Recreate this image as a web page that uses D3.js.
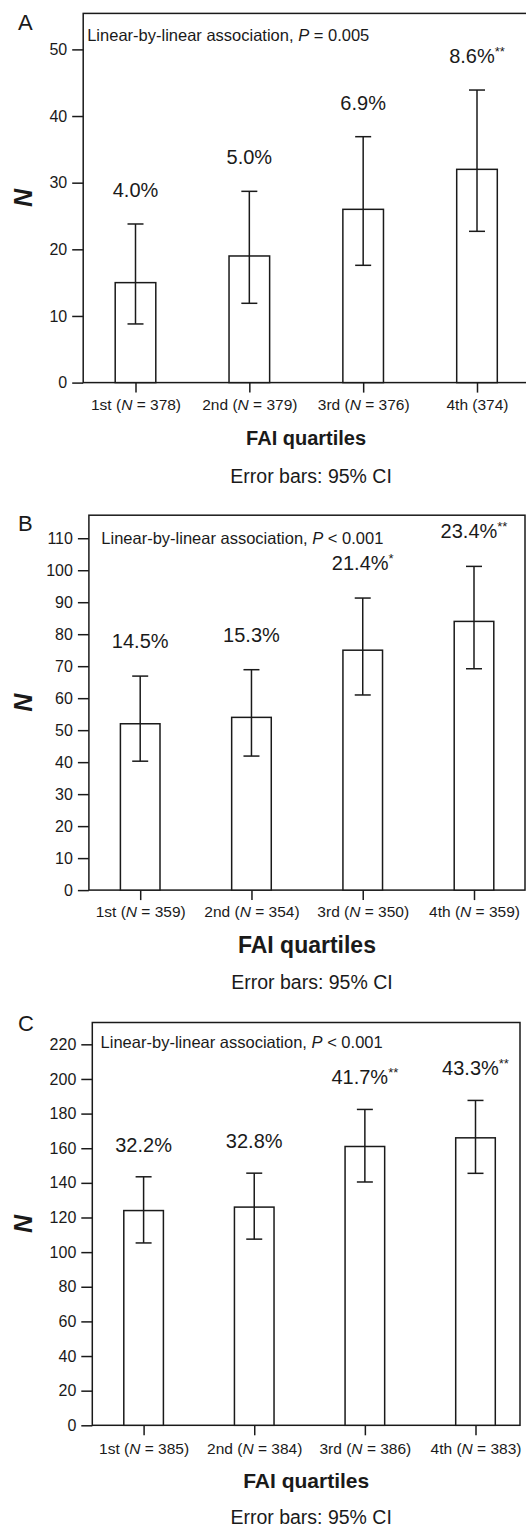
<!DOCTYPE html>
<html>
<head>
<meta charset="utf-8">
<script src="https://cdn.jsdelivr.net/npm/d3@7"></script>
<style>
  html, body { margin: 0; padding: 0; background: #fff; }
  svg { display: block; }
  text { font-family: 'Liberation Sans', Arial, Helvetica, sans-serif; fill: #1a1a1a; }
</style>
</head>
<body>
<script>
// ---------- DATA ----------
const categories = ["1st", "2nd", "3rd", "4th"];

const xLabelsA = ["1st (N = 378)", "2nd (N = 379)", "3rd (N = 376)", "4th (374)"];
const valuesA  = [15, 19, 26, 32];
const lowerA   = [8.8, 11.9, 17.6, 22.7];
const upperA   = [23.8, 28.7, 36.9, 43.9];
const pctA     = ["4.0%", "5.0%", "6.9%", "8.6%"];
const starsA   = ["", "", "", "**"];
const pTextA   = "= 0.005";
const yTicksA  = [0, 10, 20, 30, 40, 50];

const xLabelsB = ["1st (N = 359)", "2nd (N = 354)", "3rd (N = 350)", "4th (N = 359)"];
const valuesB  = [52, 54, 75, 84];
const lowerB   = [40.3, 41.9, 61.0, 69.2];
const upperB   = [66.9, 68.9, 91.3, 101.2];
const pctB     = ["14.5%", "15.3%", "21.4%", "23.4%"];
const starsB   = ["", "", "*", "**"];
const pTextB   = "< 0.001";
const yTicksB  = [0, 10, 20, 30, 40, 50, 60, 70, 80, 90, 100, 110];

const xLabelsC = ["1st (N = 385)", "2nd (N = 384)", "3rd (N = 386)", "4th (N = 383)"];
const valuesC  = [124, 126, 161, 166];
const lowerC   = [105.3, 107.5, 140.5, 145.5];
const upperC   = [143.5, 145.6, 182.4, 187.6];
const pctC     = ["32.2%", "32.8%", "41.7%", "43.3%"];
const starsC   = ["", "", "**", "**"];
const pTextC   = "< 0.001";
const yTicksC  = [0, 20, 40, 60, 80, 100, 120, 140, 160, 180, 200, 220];

const panelLetters = ["A", "B", "C"];
const xTitle = "FAI quartiles";
const errNote = "Error bars: 95% CI";
const yTitle = "N";

// ---------- LAYOUT ----------
const W = 526, H = 1530;
const ink = "#1a1a1a";
const svg = d3.select("body").append("svg").attr("width", W).attr("height", H);

const layouts = [
  { left: 83.2, right: 530, top: 13.4, y0: 382.6, yMax: 55.4, xFirst: 135.5, xLast: 477, barW: 40.6,
    letterY: 29.5, annotX: 87.2, annotY: 40.9, xlabY: 409.6, titleY: 444.5, titleFs: 20, errY: 483, pctGap: 27 },
  { left: 88.9, right: 525, top: 515.2, y0: 890.1, yMax: 117.2, xFirst: 140.2, xLast: 474, barW: 39.6,
    letterY: 531, annotX: 101.3, annotY: 543.7, xlabY: 916.8, titleY: 953, titleFs: 23, errY: 989, pctGap: 28 },
  { left: 92.3, right: 520, top: 1022.5, y0: 1425.3, yMax: 232.6, xFirst: 143.6, xLast: 475.5, barW: 39.6,
    letterY: 1031, annotX: 100.6, annotY: 1048, xlabY: 1454.2, titleY: 1487.7, titleFs: 21, errY: 1524, pctGap: 25 }
];

const panels = [
  { xLabels: xLabelsA, values: valuesA, lower: lowerA, upper: upperA, pct: pctA, stars: starsA, pText: pTextA, yTicks: yTicksA },
  { xLabels: xLabelsB, values: valuesB, lower: lowerB, upper: upperB, pct: pctB, stars: starsB, pText: pTextB, yTicks: yTicksB },
  { xLabels: xLabelsC, values: valuesC, lower: lowerC, upper: upperC, pct: pctC, stars: starsC, pText: pTextC, yTicks: yTicksC }
];

function drawPanel(L, P, letter) {
  const g = svg.append("g");
  const y = d3.scaleLinear().domain([0, L.yMax]).range([L.y0, L.top]);
  const x = d3.scalePoint().domain(categories).range([L.xFirst, L.xLast]);

  // frame
  g.append("rect")
    .attr("x", L.left).attr("y", L.top)
    .attr("width", L.right - L.left).attr("height", L.y0 - L.top)
    .attr("fill", "none").attr("stroke", ink).attr("stroke-width", 1.5);

  // y axis
  const ya = g.append("g").attr("transform", `translate(${L.left},0)`)
    .call(d3.axisLeft(y).tickValues(P.yTicks).tickSize(11).tickPadding(5).tickFormat(d3.format("d")));
  ya.select(".domain").remove();
  ya.selectAll(".tick line").attr("stroke", ink).attr("stroke-width", 1.5);
  ya.selectAll(".tick text").attr("font-size", 16).attr("fill", ink)
    .style("font-family", "'Liberation Sans', Arial, sans-serif");

  // x axis
  const xa = g.append("g").attr("transform", `translate(0,${L.y0})`)
    .call(d3.axisBottom(x).tickSize(10).tickFormat((d, i) => P.xLabels[i]));
  xa.select(".domain").remove();
  xa.selectAll(".tick line").attr("stroke", ink).attr("stroke-width", 1.5);
  xa.selectAll(".tick text").each(function(d, i) {
    const t = d3.select(this);
    const s = P.xLabels[i];
    t.text(null).attr("y", L.xlabY - L.y0).attr("dy", 0).attr("font-size", 15.5).attr("fill", ink)
      .style("font-family", "'Liberation Sans', Arial, sans-serif");
    const parts = s.split("N");
    parts.forEach((p, k) => {
      if (k > 0) t.append("tspan").attr("font-style", "italic").text("N");
      t.append("tspan").text(p);
    });
  });

  // bars
  g.selectAll("rect.bar").data(categories).enter().append("rect")
    .attr("class", "bar")
    .attr("x", d => x(d) - L.barW / 2)
    .attr("y", (d, i) => y(P.values[i]))
    .attr("width", L.barW)
    .attr("height", (d, i) => y(0) - y(P.values[i]))
    .attr("fill", "#fff").attr("stroke", ink).attr("stroke-width", 1.5);

  // error bars
  const cap = 8;
  const eb = g.selectAll("g.err").data(categories).enter().append("g").attr("class", "err");
  eb.append("line")
    .attr("x1", d => x(d)).attr("x2", d => x(d))
    .attr("y1", (d, i) => y(P.lower[i])).attr("y2", (d, i) => y(P.upper[i]))
    .attr("stroke", ink).attr("stroke-width", 1.5);
  eb.append("line")
    .attr("x1", d => x(d) - cap).attr("x2", d => x(d) + cap)
    .attr("y1", (d, i) => y(P.upper[i])).attr("y2", (d, i) => y(P.upper[i]))
    .attr("stroke", ink).attr("stroke-width", 1.5);
  eb.append("line")
    .attr("x1", d => x(d) - cap).attr("x2", d => x(d) + cap)
    .attr("y1", (d, i) => y(P.lower[i])).attr("y2", (d, i) => y(P.lower[i]))
    .attr("stroke", ink).attr("stroke-width", 1.5);

  // percentage labels
  const pl = g.selectAll("text.pct").data(categories).enter().append("text")
    .attr("class", "pct")
    .attr("x", d => x(d))
    .attr("y", (d, i) => y(P.upper[i]) - L.pctGap)
    .attr("text-anchor", "middle").attr("font-size", 20);
  pl.append("tspan").text((d, i) => P.pct[i]);
  pl.append("tspan").attr("font-size", 13).attr("dy", -7).text((d, i) => P.stars[i]);

  // annotation
  const an = g.append("text").attr("x", L.annotX).attr("y", L.annotY).attr("font-size", 16.5);
  an.append("tspan").text("Linear-by-linear association, ");
  an.append("tspan").attr("font-style", "italic").text("P");
  an.append("tspan").text(" " + P.pText);

  // panel letter
  g.append("text").attr("x", 18).attr("y", L.letterY).attr("font-size", 22).text(letter);

  // y title
  g.append("text")
    .attr("transform", `translate(32,${(L.top + L.y0) / 2}) rotate(-90)`)
    .attr("text-anchor", "middle").attr("font-size", 25)
    .attr("font-weight", "bold").attr("font-style", "italic").text(yTitle);

  // x title
  const cx = (L.left + Math.min(L.right, W + 3)) / 2;
  g.append("text").attr("x", cx).attr("y", L.titleY).attr("text-anchor", "middle")
    .attr("font-size", L.titleFs).attr("font-weight", "bold").text(xTitle);

  g.append("text").attr("x", cx + 5).attr("y", L.errY).attr("text-anchor", "middle")
    .attr("font-size", 19.5).text(errNote);
}

panels.forEach((P, i) => drawPanel(layouts[i], P, panelLetters[i]));
</script>
</body>
</html>
